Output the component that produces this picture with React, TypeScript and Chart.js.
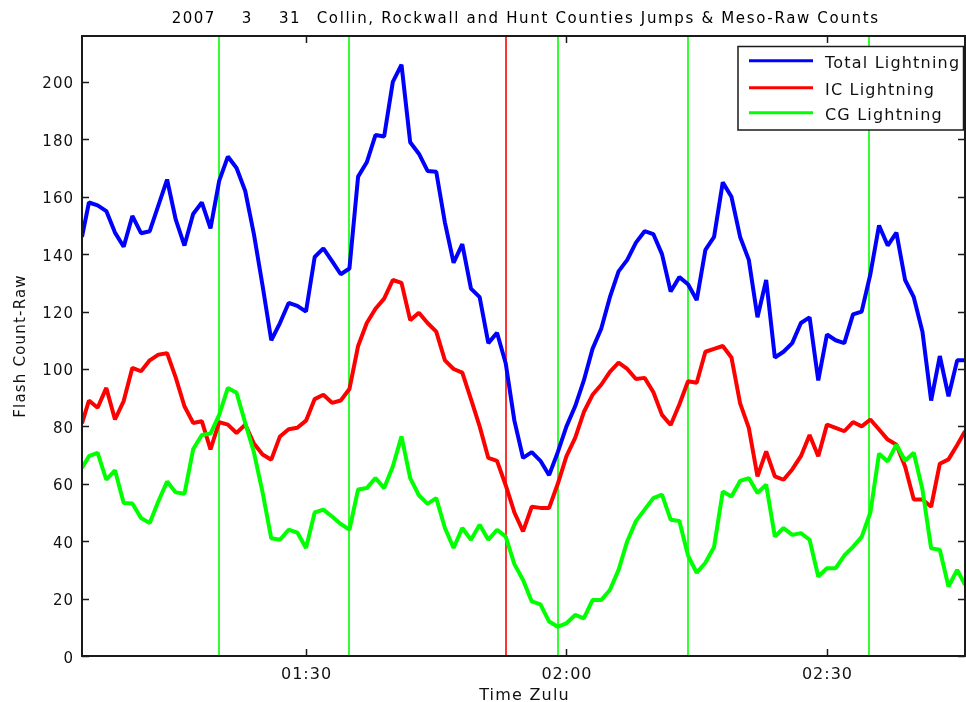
import React, { useEffect, useRef } from "react";
import { Chart, registerables } from "chart.js";

Chart.register(...registerables);

// Time in minutes after 00:00 UTC (64.2 = 01:04.2)
const times = [
  64.2,
  65, 66, 67, 68, 69, 70, 71, 72, 73, 74,
  75, 76, 77, 78, 79, 80, 81, 82, 83, 84,
  85, 86, 87, 88, 89, 90, 91, 92, 93, 94,
  95, 96, 97, 98, 99, 100, 101, 102, 103, 104,
  105, 106, 107, 108, 109, 110, 111, 112, 113, 114,
  115, 116, 117, 118, 119, 120, 121, 122, 123, 124,
  125, 126, 127, 128, 129, 130, 131, 132, 133, 134,
  135, 136, 137, 138, 139, 140, 141, 142, 143, 144,
  145, 146, 147, 148, 149, 150, 151, 152, 153, 154,
  155, 156, 157, 158, 159, 160, 161, 162, 163, 164, 165,
  165.9,
];

const totalLightning = [
  146,
  158, 157, 155, 147.5, 142.6, 153.3, 147.3, 148, 157, 166,
  152, 143, 154, 158, 149, 165.5, 174, 170, 162, 147,
  129, 110, 116, 123, 122, 120, 139, 142, 137.6, 133,
  135, 167, 172, 181.5, 181, 200, 206, 179, 175, 169,
  168.7, 151, 137, 143.5, 128, 125, 109, 112.6, 102, 82,
  69, 71, 68, 63, 71, 80, 87, 96, 107, 114,
  125, 134, 138, 144, 148, 147, 140, 127, 132, 129.5,
  124, 141.5, 146, 165, 160, 146, 138, 118, 131, 104,
  106, 109, 116, 118, 96, 112, 110, 109, 119, 120,
  133, 150, 143, 147.5, 131, 125, 113, 89, 104.5, 90.5, 103,
  103,
];

const icLightning = [
  81,
  89, 86.5, 93.4, 82.4, 88.8, 100.4, 99.2, 103, 105, 105.5,
  97, 87, 81.2, 81.8, 72, 81.5, 80.6, 77.7, 80.6, 74,
  70.2, 68.4, 76.5, 79, 79.5, 82, 89.5, 91, 88.2, 89,
  93, 108, 116, 121, 124.5, 131, 130, 117, 119.6, 116,
  113, 103, 100, 98.7, 89.5, 80, 69, 68, 59.5, 50,
  43.4, 52, 51.6, 51.6, 60, 69.6, 76, 85, 91, 94.5,
  99, 102.2, 100, 96.5, 96.9, 92, 84, 80.5, 87.6, 95.7,
  95.2, 106, 107, 108, 104, 88, 79.5, 62.6, 71.3, 62.6,
  61.4, 65, 69.6, 77, 69.6, 80.6, 79.5, 78.3, 81.5, 80,
  82.4, 78.9, 75.4, 73.6, 66, 54.5, 54.5, 52, 67, 68.5, 73.5,
  78.3,
];

const cgLightning = [
  65.5,
  69.6, 70.8, 61.4, 64.7, 53.3, 53.1, 48.1, 46.3, 53.9, 60.8,
  57, 56.5, 72, 77, 77.5, 84, 93.4, 91.7, 81.2, 71,
  57, 41, 40.5, 44, 43, 37.6, 50, 51, 48.6, 46,
  44, 58, 58.5, 62, 58.5, 66, 76.5, 62, 56, 53,
  55, 44.6, 37.6, 44.6, 40.5, 45.7, 40.5, 44, 41.6, 32,
  26.5, 19, 18, 12, 10.2, 11.4, 14.3, 13.1, 19.5, 19.5,
  23, 30, 40, 47, 51, 55, 56.2, 47.5, 47, 35,
  29, 32.5, 38, 57.3, 55.6, 61, 62, 56.8, 59.7, 41.6,
  44.6, 42.2, 42.8, 40.5, 27.7, 30.6, 30.6, 35, 38, 41.5,
  50, 70.5, 67.8, 73.6, 68, 70.8, 58, 37.5, 37, 24.2, 30,
  24.8,
];

const seriesLabels = ["Total Lightning", "IC Lightning", "CG Lightning"];
const seriesColors = ["#0000ff", "#ff0000", "#00ff00"];

const xTicks = [90, 120, 150];
const xTickLabels = ["01:30", "02:00", "02:30"];
const yTicks = [0, 20, 40, 60, 80, 100, 120, 140, 160, 180, 200];

const greenJumpTimes = [80, 95, 119, 134, 154.9];
const redJumpTimes = [113];

const titleParts = ["2007", "3", "31", "Collin, Rockwall and Hunt Counties Jumps & Meso-Raw Counts"];
const yAxisTitle = "Flash Count-Raw";
const xAxisTitle = "Time Zulu";

const FONT = '"DejaVu Sans", "Liberation Sans", sans-serif';

const decorPlugin = {
  id: "decor",
  beforeDatasetsDraw(chart: any) {
    const { ctx, chartArea: a, scales } = chart;
    const x = scales.x;
    ctx.save();
    ctx.beginPath();
    ctx.rect(a.left, a.top, a.right - a.left, a.bottom - a.top);
    ctx.clip();
    ctx.lineWidth = 2;
    const vline = (t: number, color: string) => {
      const px = Math.round(x.getPixelForValue(t));
      ctx.strokeStyle = color;
      ctx.beginPath();
      ctx.moveTo(px, a.top);
      ctx.lineTo(px, a.bottom);
      ctx.stroke();
    };
    greenJumpTimes.forEach((t) => vline(t, "#33ff33"));
    redJumpTimes.forEach((t) => vline(t, "#ff3333"));
    ctx.restore();
  },
  afterDraw(chart: any) {
    const { ctx, chartArea: a, scales } = chart;
    const x = scales.x;
    const y = scales.y;
    ctx.save();
    (ctx as any).letterSpacing = "0px";

    // axes box
    ctx.strokeStyle = "#1a1a1a";
    ctx.lineWidth = 2;
    ctx.strokeRect(a.left, a.top, a.right - a.left, a.bottom - a.top);

    // inward ticks
    ctx.lineWidth = 1.5;
    const tl = 7;
    ctx.beginPath();
    yTicks.forEach((v) => {
      const py = Math.round(y.getPixelForValue(v)) + 0.5;
      ctx.moveTo(a.left, py);
      ctx.lineTo(a.left + tl, py);
      ctx.moveTo(a.right, py);
      ctx.lineTo(a.right - tl, py);
    });
    xTicks.forEach((v) => {
      const px = Math.round(x.getPixelForValue(v)) + 0.5;
      ctx.moveTo(px, a.bottom);
      ctx.lineTo(px, a.bottom - tl);
      ctx.moveTo(px, a.top);
      ctx.lineTo(px, a.top + tl);
    });
    ctx.stroke();

    ctx.fillStyle = "#111";
    // y tick labels
    ctx.font = `15px ${FONT}`;
    (ctx as any).letterSpacing = "1px";
    ctx.textAlign = "right";
    ctx.textBaseline = "alphabetic";
    yTicks.forEach((v) => {
      const py = y.getPixelForValue(v);
      ctx.fillText(String(v), a.left - 8, py + 6.5);
    });

    // x tick labels
    ctx.font = `16px ${FONT}`;
    ctx.textAlign = "center";
    xTicks.forEach((v, i) => {
      const px = x.getPixelForValue(v);
      ctx.fillText(xTickLabels[i], px + 0.5, a.bottom + 22.5);
    });

    // x axis title
    ctx.font = `16px ${FONT}`;
    (ctx as any).letterSpacing = "1.2px";
    ctx.textAlign = "center";
    ctx.fillText(xAxisTitle, (a.left + a.right) / 2 + 1, 700);

    // y axis title
    ctx.save();
    ctx.translate(25, 346);
    ctx.rotate(-Math.PI / 2);
    ctx.font = `15px ${FONT}`;
    (ctx as any).letterSpacing = "1.2px";
    ctx.textAlign = "center";
    ctx.fillText(yAxisTitle, 0, 0);
    ctx.restore();

    // title
    ctx.font = `15px ${FONT}`;
    ctx.textAlign = "left";
    ctx.fillStyle = "#000";
    const titleX = [171.7, 241.7, 279, 316.7];
    const mainText = titleParts[3];
    (ctx as any).letterSpacing = "0px";
    const w0 = ctx.measureText(mainText).width;
    const ls = Math.max(0, Math.min(3, (878 - 316.7 - w0) / (mainText.length - 1)));
    titleParts.forEach((p, i) => {
      (ctx as any).letterSpacing = i === 3 ? `${ls}px` : "1.5px";
      ctx.fillText(p, titleX[i], 22.7);
    });

    // legend
    const bx = 738, by = 46.5, bw = 225.5, bh = 83.5;
    ctx.fillStyle = "#ffffff";
    ctx.fillRect(bx, by, bw, bh);
    ctx.strokeStyle = "#1a1a1a";
    ctx.lineWidth = 1.5;
    ctx.strokeRect(bx, by, bw, bh);
    const rows = [60.7, 87.7, 112.7];
    ctx.font = `16px ${FONT}`;
    (ctx as any).letterSpacing = "1.2px";
    ctx.textAlign = "left";
    seriesLabels.forEach((lab, i) => {
      ctx.strokeStyle = seriesColors[i];
      ctx.lineWidth = 3;
      ctx.beginPath();
      ctx.moveTo(749, rows[i]);
      ctx.lineTo(813, rows[i]);
      ctx.stroke();
      ctx.fillStyle = "#111";
      ctx.fillText(lab, 825, rows[i] + 7.5);
    });
    ctx.restore();
  },
};

export default function App() {
  const ref = useRef<HTMLCanvasElement | null>(null);
  useEffect(() => {
    if (!ref.current) return;
    const series = [totalLightning, icLightning, cgLightning];
    const chart = new Chart(ref.current, {
      type: "line",
      data: {
        datasets: series.map((vals, i) => ({
          label: seriesLabels[i],
          data: times.map((t, j) => ({ x: t, y: vals[j] })),
          borderColor: seriesColors[i],
          backgroundColor: seriesColors[i],
          borderWidth: 4,
          pointRadius: 0,
          tension: 0,
          borderJoinStyle: "bevel" as const,
          order: 2 - i,
        })),
      },
      options: {
        animation: false,
        responsive: false,
        maintainAspectRatio: false,
        devicePixelRatio: 1,
        layout: { padding: { left: 82, right: 1, top: 36, bottom: 46 } },
        scales: {
          x: { type: "linear", min: 64.2, max: 165.9, display: false },
          y: { type: "linear", min: 0, max: 216, display: false },
        },
        plugins: {
          legend: { display: false },
          title: { display: false },
          tooltip: { enabled: false },
        },
      },
      plugins: [decorPlugin],
    } as any);
    return () => chart.destroy();
  }, []);

  return (
    <div style={{ position: "fixed", left: 0, top: 0, width: 966, height: 702, background: "#fff" }}>
      <canvas ref={ref} width={966} height={702} style={{ display: "block" }} />
    </div>
  );
}
